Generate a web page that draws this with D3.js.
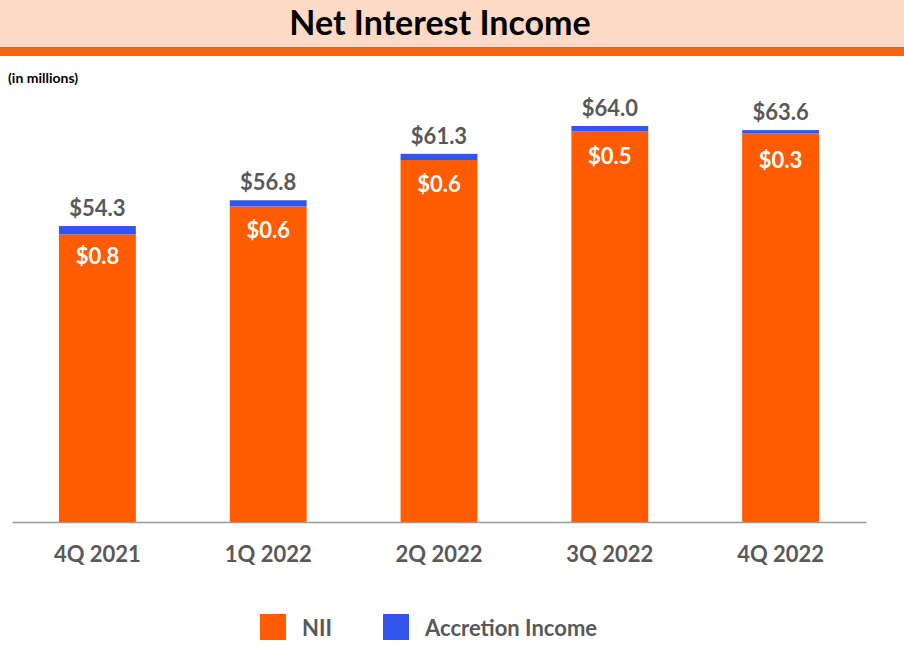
<!DOCTYPE html>
<html><head><meta charset="utf-8">
<script src="https://cdn.jsdelivr.net/npm/d3@7"></script>
<style>body{margin:0;background:#fff;font-family:Lato,"Open Sans",sans-serif;}</style>
</head><body><div class="chart"></div>
<script>
const quarters = ["4Q 2021", "1Q 2022", "2Q 2022", "3Q 2022", "4Q 2022"];
const totals = [54.3, 56.8, 61.3, 64.0, 63.6];
const accretion = [0.8, 0.6, 0.6, 0.5, 0.3];
const nii = totals.map((t, i) => +(t - accretion[i]).toFixed(1));

const width = 904, height = 664;
const svg = d3.select(".chart").append("svg").attr("width", width).attr("height", height);

svg.append("rect").attr("x", 0).attr("y", 0).attr("width", width).attr("height", 48).attr("fill", "#fddac6");
svg.append("rect").attr("x", 0).attr("y", 47).attr("width", width).attr("height", 9).attr("fill", "#f4650f");
svg.append("text").attr("x", 440).attr("y", 35).attr("text-anchor", "middle")
    .attr("font-size", 34).attr("font-weight", "bold").attr("fill", "#000").text("Net Interest Income");
svg.append("text").attr("x", 8).attr("y", 83).attr("font-size", 14).attr("font-weight", "bold").text("(in millions)");

const x = d3.scaleBand().domain(quarters).range([12, 866]).paddingInner(0.55).paddingOuter(0.275);
const y = d3.scaleLinear().domain([25.6, 64]).range([522, 126]);

const g = svg.append("g");
quarters.forEach((q, i) => {
    g.append("rect").attr("x", x(q)).attr("width", x.bandwidth())
        .attr("y", y(nii[i])).attr("height", y(25.6) - y(nii[i])).attr("fill", "#ff5b00");
    g.append("rect").attr("x", x(q)).attr("width", x.bandwidth())
        .attr("y", y(totals[i])).attr("height", y(nii[i]) - y(totals[i])).attr("fill", "#3355ee");
    g.append("text").attr("x", x(q) + x.bandwidth() / 2).attr("y", y(totals[i]) - 10)
        .attr("text-anchor", "middle").attr("font-size", 22).attr("font-weight", "bold").attr("fill", "#595959")
        .text("$" + totals[i].toFixed(1));
    g.append("text").attr("x", x(q) + x.bandwidth() / 2).attr("y", y(totals[i]) + 38)
        .attr("text-anchor", "middle").attr("font-size", 22).attr("font-weight", "bold").attr("fill", "#fff")
        .text("$" + accretion[i].toFixed(1));
});

const axis = svg.append("g").attr("transform", "translate(0,522)")
    .call(d3.axisBottom(x).tickSize(0).tickPadding(24));
axis.select(".domain").attr("stroke", "#999").attr("stroke-width", 1.5);
axis.selectAll("text").attr("font-size", 22).attr("font-weight", "bold").attr("fill", "#595959")
    .attr("font-family", "Lato,'Open Sans',sans-serif");

const legend = [{name: "NII", color: "#ff5b00", x: 260}, {name: "Accretion Income", color: "#3355ee", x: 383}];
legend.forEach(l => {
    svg.append("rect").attr("x", l.x).attr("y", 614).attr("width", 26).attr("height", 26).attr("fill", l.color);
    svg.append("text").attr("x", l.x + 42).attr("y", 636).attr("font-size", 22).attr("font-weight", "bold")
        .attr("fill", "#595959").text(l.name);
});
</script></body></html>
